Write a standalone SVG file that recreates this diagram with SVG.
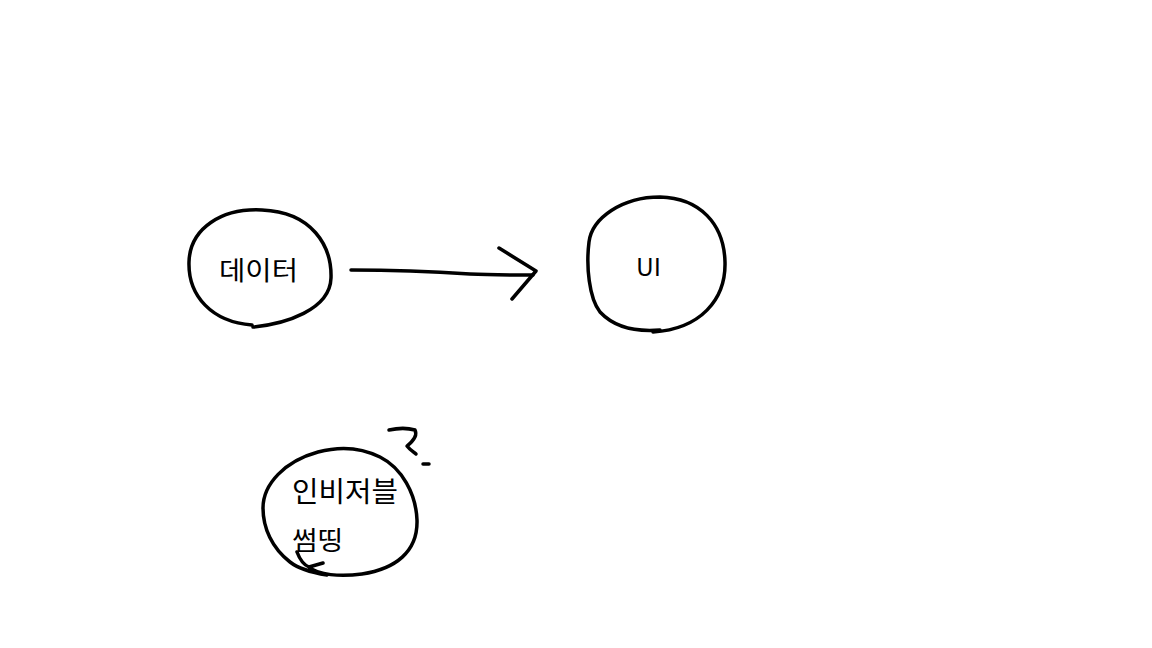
<svg xmlns="http://www.w3.org/2000/svg" width="1152" height="648" viewBox="0 0 1152 648">
<style>
.s{fill:none;stroke:#000;stroke-width:3.5;stroke-linecap:round;stroke-linejoin:round}
.t{font-family:"Noto Sans CJK KR","Noto Sans",sans-serif;fill:#000}
</style>
<rect width="1152" height="648" fill="#fff"/>
<g id="node-data">
<path class="s" d="M 253 327 C 285 324 330 310 331 278 C 332 246 312 212 262 210 C 222 208 190 228 189 262 C 188 296 212 322 252 325"/>
<text class="t" x="219" y="280" font-size="26" textLength="79" lengthAdjust="spacingAndGlyphs">데이터</text>
</g>
<g id="node-ui">
<path class="s" d="M 653 332 C 700 329 726 300 725 262 C 724 224 700 198 660 197 C 622 197 592 218 589 242 C 586 266 589 298 600 312 C 615 328 636 332 660 330"/>
<text class="t" x="636" y="276" font-size="24" textLength="25" lengthAdjust="spacingAndGlyphs">UI</text>
</g>
<g id="node-invisible">
<path class="s" d="M 297 552 C 300 560 304 565 309 567 L 323 563 M 309 567 C 318 575 340 577 362 574 C 395 569 418 552 417 520 C 416 494 402 468 380 457 C 362 448 340 446 318 452 C 285 461 263 484 263 508 C 263 528 272 548 290 562 C 300 570 315 573 327 575"/>
<text class="t" x="292" y="502" font-size="28" textLength="106" lengthAdjust="spacingAndGlyphs">인비저블</text>
<text class="t" x="292" y="550" font-size="26" textLength="51" lengthAdjust="spacingAndGlyphs">썸띵</text>
<path class="s" d="M 389 430 C 398 428 408 428 415 430 C 418 436 412 442 407 446 C 410 450 414 452 416 454"/>
<path class="s" d="M 423 464 L 429 464"/>
</g>
<g id="connectors">
<path class="s" d="M 351 270 C 400 270 440 272 470 274 C 490 275 510 275 533 275"/>
<path class="s" d="M 499 248 L 536 271 L 512 299"/>
</g>
</svg>
